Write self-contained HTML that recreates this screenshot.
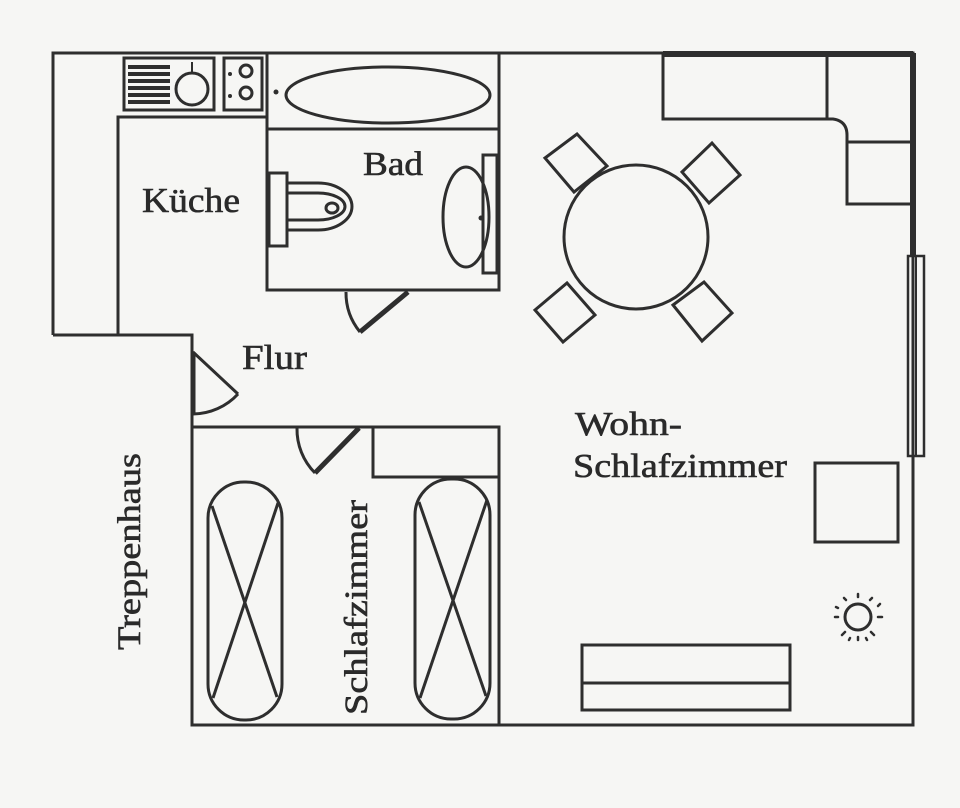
<!DOCTYPE html>
<html>
<head>
<meta charset="utf-8">
<style>
html,body{margin:0;padding:0;background:#f6f6f4;}
svg{display:block;}
text{font-family:"Liberation Serif","DejaVu Serif",serif;fill:#2a2a2a;stroke:#2a2a2a;stroke-width:0.6;}
</style>
</head>
<body>
<svg width="960" height="808" viewBox="0 0 960 808" xmlns="http://www.w3.org/2000/svg">
<rect width="960" height="808" fill="#f6f6f4"/>
<g fill="none" stroke="#2e2e2e" stroke-width="3" stroke-linejoin="miter">
  <!-- outer walls -->
  <polyline points="53,335 53,53 913,53 913,725 192,725 192,335 53,335"/>
  <line x1="663" y1="54" x2="913" y2="54" stroke-width="6"/>
  <line x1="913" y1="53" x2="913" y2="256" stroke-width="6"/>
  <!-- kitchen inner wall -->
  <polyline points="118,335 118,117 267,117"/>
  <!-- bath enclosure -->
  <polyline points="267,53 267,290 499,290 499,53"/>
  <line x1="267" y1="129" x2="499" y2="129"/>
  <!-- kitchen counter: sink -->
  <rect x="124" y="58" width="90" height="52"/>
  <circle cx="192" cy="89" r="16"/>
  <line x1="192" y1="62" x2="192" y2="73" stroke-width="2"/>
  <!-- stove -->
  <rect x="224" y="58" width="38" height="52"/>
  <circle cx="246" cy="71" r="6"/>
  <circle cx="246" cy="93" r="6"/>
  <!-- bathtub -->
  <ellipse cx="388" cy="95" rx="102" ry="28"/>
  <!-- toilet -->
  <rect x="269" y="173" width="18" height="73"/>
  <path d="M287,183 L318,183 A34,23.5 0 0 1 318,230 L287,230"/>
  <path d="M287,193 L318,193 A27,13.5 0 0 1 318,220 L287,220"/>
  <ellipse cx="332" cy="208" rx="6" ry="5"/>
  <!-- washbasin -->
  <rect x="483" y="155" width="14" height="118"/>
  <ellipse cx="466" cy="217" rx="23" ry="50"/>
  <!-- bath door -->
  <line x1="408" y1="292" x2="360" y2="332" stroke-width="5"/>
  <path d="M360,332 A62,62 0 0 1 346,292"/>
  <!-- entry door -->
  <line x1="193" y1="352" x2="193" y2="415" stroke-width="5"/>
  <line x1="193" y1="352" x2="238" y2="394"/>
  <path d="M238,394 A62,62 0 0 1 193,414"/>
  <!-- bedroom walls -->
  <polyline points="192,427 499,427 499,725"/>
  <rect x="373" y="427" width="126" height="50"/>
  <!-- bedroom door -->
  <line x1="359" y1="428" x2="315" y2="473" stroke-width="5"/>
  <path d="M315,473 A62,62 0 0 1 297,428"/>
  <!-- beds -->
  <rect x="208" y="482" width="74" height="238" rx="36" ry="36"/>
  <line x1="212" y1="506" x2="277" y2="697"/>
  <line x1="278" y1="503" x2="213" y2="698"/>
  <rect x="415" y="479" width="75" height="240" rx="36" ry="36"/>
  <line x1="419" y1="502" x2="486" y2="696"/>
  <line x1="487" y1="500" x2="420" y2="698"/>
  <!-- living: kitchen unit -->
  <path d="M663,53 L663,119 L833,119 Q847,121 847,135 L847,204 L913,204"/>
  <line x1="827" y1="53" x2="827" y2="119"/>
  <line x1="847" y1="142" x2="913" y2="142"/>
  <!-- table & chairs -->
  <circle cx="636" cy="237" r="72"/>
  <polygon points="545,158 577,134 607,166 574,192"/>
  <polygon points="682,172 712,143 740,175 709,203"/>
  <polygon points="535,310 567,283 595,315 563,342"/>
  <polygon points="673,305 704,282 732,313 702,341"/>
  <!-- window -->
  <rect x="908" y="256" width="16" height="200" stroke-width="2.5"/>
  <line x1="916" y1="256" x2="916" y2="456" stroke-width="2"/>
  <!-- armchair -->
  <rect x="815" y="463" width="83" height="79"/>
  <!-- sofa -->
  <rect x="582" y="645" width="208" height="65"/>
  <line x1="582" y1="683" x2="790" y2="683"/>
  <!-- lamp / sun -->
  <circle cx="858" cy="617" r="13"/>
  <g stroke-width="2.5" stroke-linecap="round">
    <line x1="858" y1="594" x2="858" y2="597"/>
    <line x1="858" y1="637" x2="858" y2="640"/>
    <line x1="838" y1="617" x2="835" y2="617"/>
    <line x1="878" y1="617" x2="882" y2="617"/>
    <line x1="846" y1="600" x2="844" y2="598"/>
    <line x1="870" y1="600" x2="872" y2="598"/>
    <line x1="845" y1="632" x2="842" y2="635"/>
    <line x1="871" y1="632" x2="874" y2="635"/>
    <line x1="838" y1="608" x2="836" y2="607"/>
    <line x1="878" y1="606" x2="880" y2="604"/>
    <line x1="850" y1="638" x2="849" y2="640"/>
    <line x1="866" y1="638" x2="867" y2="640"/>
  </g>
</g>
<!-- filled details -->
<g fill="#2e2e2e">
  <rect x="128" y="65" width="42" height="4"/>
  <rect x="128" y="72" width="42" height="4"/>
  <rect x="128" y="79" width="42" height="4"/>
  <rect x="128" y="86" width="42" height="4"/>
  <rect x="128" y="93" width="42" height="4"/>
  <rect x="128" y="100" width="42" height="4"/>
  <circle cx="230" cy="74" r="2"/>
  <circle cx="230" cy="96" r="2"/>
  <circle cx="276" cy="92" r="2.5"/>
  <circle cx="481" cy="218" r="2.5"/>
</g>
<!-- labels -->
<text x="142" y="212" font-size="35" textLength="98" lengthAdjust="spacingAndGlyphs">Küche</text>
<text x="363" y="175" font-size="34" textLength="60" lengthAdjust="spacingAndGlyphs">Bad</text>
<text x="242" y="369" font-size="35" textLength="65" lengthAdjust="spacingAndGlyphs">Flur</text>
<text x="575" y="435" font-size="34" textLength="107" lengthAdjust="spacingAndGlyphs">Wohn-</text>
<text x="573" y="477" font-size="34" textLength="214" lengthAdjust="spacingAndGlyphs">Schlafzimmer</text>
<text transform="translate(140,650) rotate(-90)" x="0" y="0" font-size="33" textLength="197" lengthAdjust="spacingAndGlyphs">Treppenhaus</text>
<text transform="translate(367,715) rotate(-90)" x="0" y="0" font-size="33" textLength="215" lengthAdjust="spacingAndGlyphs">Schlafzimmer</text>
</svg>
</body>
</html>
